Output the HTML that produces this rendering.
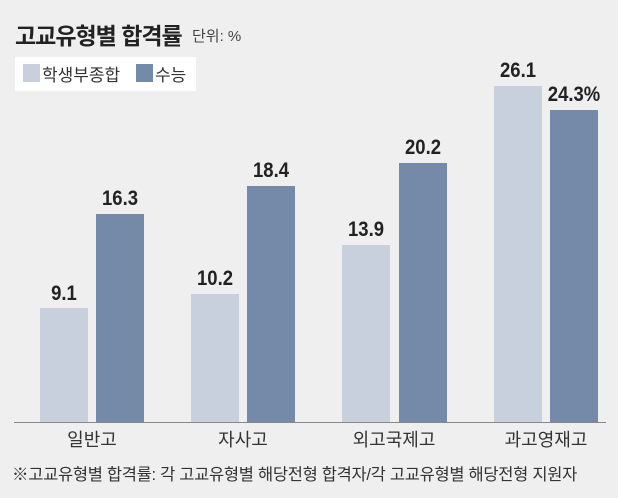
<!DOCTYPE html>
<html><head><meta charset="utf-8"><style>
body{margin:0;width:618px;height:498px;background:#efefef;overflow:hidden;font-family:"Liberation Sans","Noto Sans CJK KR",sans-serif;position:relative}
.a{position:absolute}
.l{background:#c9d0dd}.d{background:#7589a9}
.v{position:absolute;width:80px;text-align:center;font-weight:bold;font-size:21px;color:#222;transform:scaleX(0.88)}
.x{position:absolute;width:120px;text-align:center;font-size:18px;color:#333;top:426px}
</style></head><body>
<div class="a" style="left:15px;top:17px;font-size:23px;font-weight:bold;color:#222;letter-spacing:-1px">고교유형별 합격률</div>
<div class="a" style="left:192px;top:25px;font-size:15px;color:#444">단위: %</div>
<div class="a" style="left:15px;top:57px;width:181px;height:34px;background:#fff"></div>
<div class="a l" style="left:23px;top:64px;width:17px;height:18px"></div>
<div class="a" style="left:42px;top:61px;font-size:17px;color:#333">학생부종합</div>
<div class="a d" style="left:136px;top:64px;width:17px;height:18px"></div>
<div class="a" style="left:155px;top:61px;font-size:17px;color:#333">수능</div>

<div class="a l" style="left:40px;top:308px;width:48px;height:114px"></div>
<div class="a d" style="left:96px;top:214px;width:48px;height:208px"></div>
<div class="a l" style="left:191px;top:294px;width:48px;height:128px"></div>
<div class="a d" style="left:247px;top:186px;width:48px;height:236px"></div>
<div class="a l" style="left:342px;top:245px;width:48px;height:177px"></div>
<div class="a d" style="left:399px;top:163px;width:48px;height:259px"></div>
<div class="a l" style="left:494px;top:86px;width:48px;height:336px"></div>
<div class="a d" style="left:550px;top:110px;width:48px;height:312px"></div>

<div class="v" style="left:24px;top:282px">9.1</div>
<div class="v" style="left:80px;top:187px">16.3</div>
<div class="v" style="left:175px;top:267px">10.2</div>
<div class="v" style="left:231px;top:159px">18.4</div>
<div class="v" style="left:326px;top:218px">13.9</div>
<div class="v" style="left:383px;top:136px">20.2</div>
<div class="v" style="left:478px;top:59px">26.1</div>
<div class="v" style="left:534px;top:83px">24.3%</div>

<div class="a" style="left:14px;top:422px;width:592px;height:1px;background:#888"></div>
<div class="x" style="left:32px">일반고</div>
<div class="x" style="left:183px">자사고</div>
<div class="x" style="left:334px">외고국제고</div>
<div class="x" style="left:486px">과고영재고</div>
<div class="a" style="left:12px;top:461px;font-size:16.5px;color:#333;letter-spacing:-0.3px;white-space:nowrap">※고교유형별 합격률: 각 고교유형별 해당전형 합격자/각 고교유형별 해당전형 지원자</div>
</body></html>
